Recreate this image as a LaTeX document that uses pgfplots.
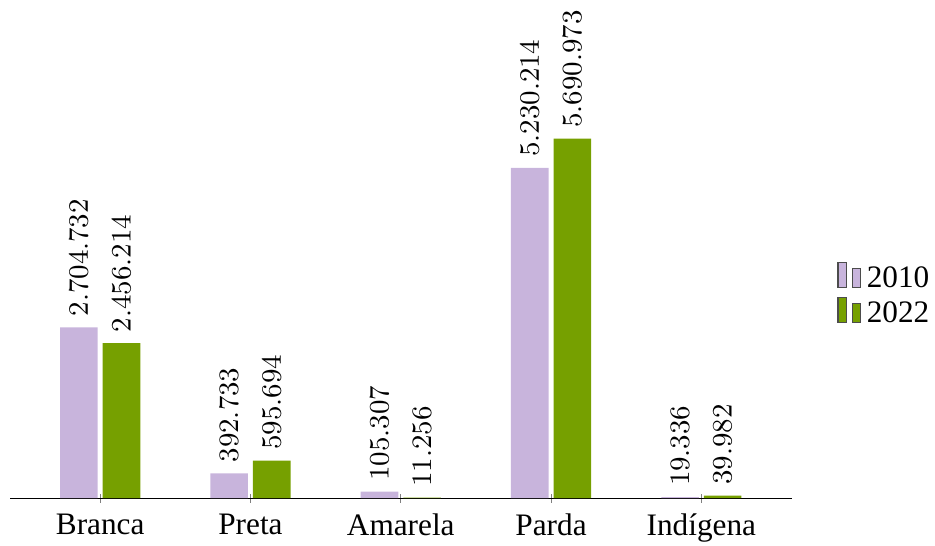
\documentclass[border=0pt]{standalone}
\usepackage{fontspec}
\setmainfont{Liberation Serif}
\usepackage{pgfplots}
\pgfplotsset{compat=1.18}
\definecolor{c2010}{RGB}{200,180,220}
\definecolor{c2022}{RGB}{118,160,0}
\begin{document}
\begin{tikzpicture}
\begin{axis}[
  scale only axis,
  width=250pt, height=115pt,
  ybar=1.6pt, bar width=0.25,
  ymin=0, ymax=5690973,
  xmin=-0.6, xmax=4.6,
  axis x line=bottom, axis y line=none,
  axis line style={-, black},
  xtick=data,
  xticklabels={Branca,Preta,Amarela,Parda,Indígena},
  xticklabel style={inner ysep=1pt, yshift=-2.3pt},
  tick align=center, major tick length=3pt,
  tick style={black!50},
  clip=false,
  nodes near coords,
  nodes near coords style={rotate=90, anchor=west, font=\small,
    /pgf/number format/.cd, fixed, precision=0, 1000 sep={.}},
  legend style={draw=none, at={(1.058,0.56)}, anchor=west, font=\normalsize,
    inner sep=0pt, row sep=-1pt, nodes={inner xsep=1.8pt}},
  legend image code/.code={%
    \draw[#1,draw=black!70,/tikz/.cd,yshift=-0.25em] (0cm,0cm) rectangle (2.7pt,0.8em);
    \draw[#1,draw=black!70,/tikz/.cd,yshift=-0.25em] (4.5pt,0cm) rectangle (7.2pt,0.6em);},
  legend cell align=left,
]
\addplot[fill=c2010, draw=none] coordinates {(0,2704732) (1,392733) (2,105307) (3,5230214) (4,19336)};
\addlegendentry{2010}
\addplot[fill=c2022, draw=none] coordinates {(0,2456214) (1,595694) (2,11256) (3,5690973) (4,39982)};
\addlegendentry{2022}
\end{axis}
\path ([xshift=-3.2pt]current axis.south west);
\end{tikzpicture}
\end{document}
